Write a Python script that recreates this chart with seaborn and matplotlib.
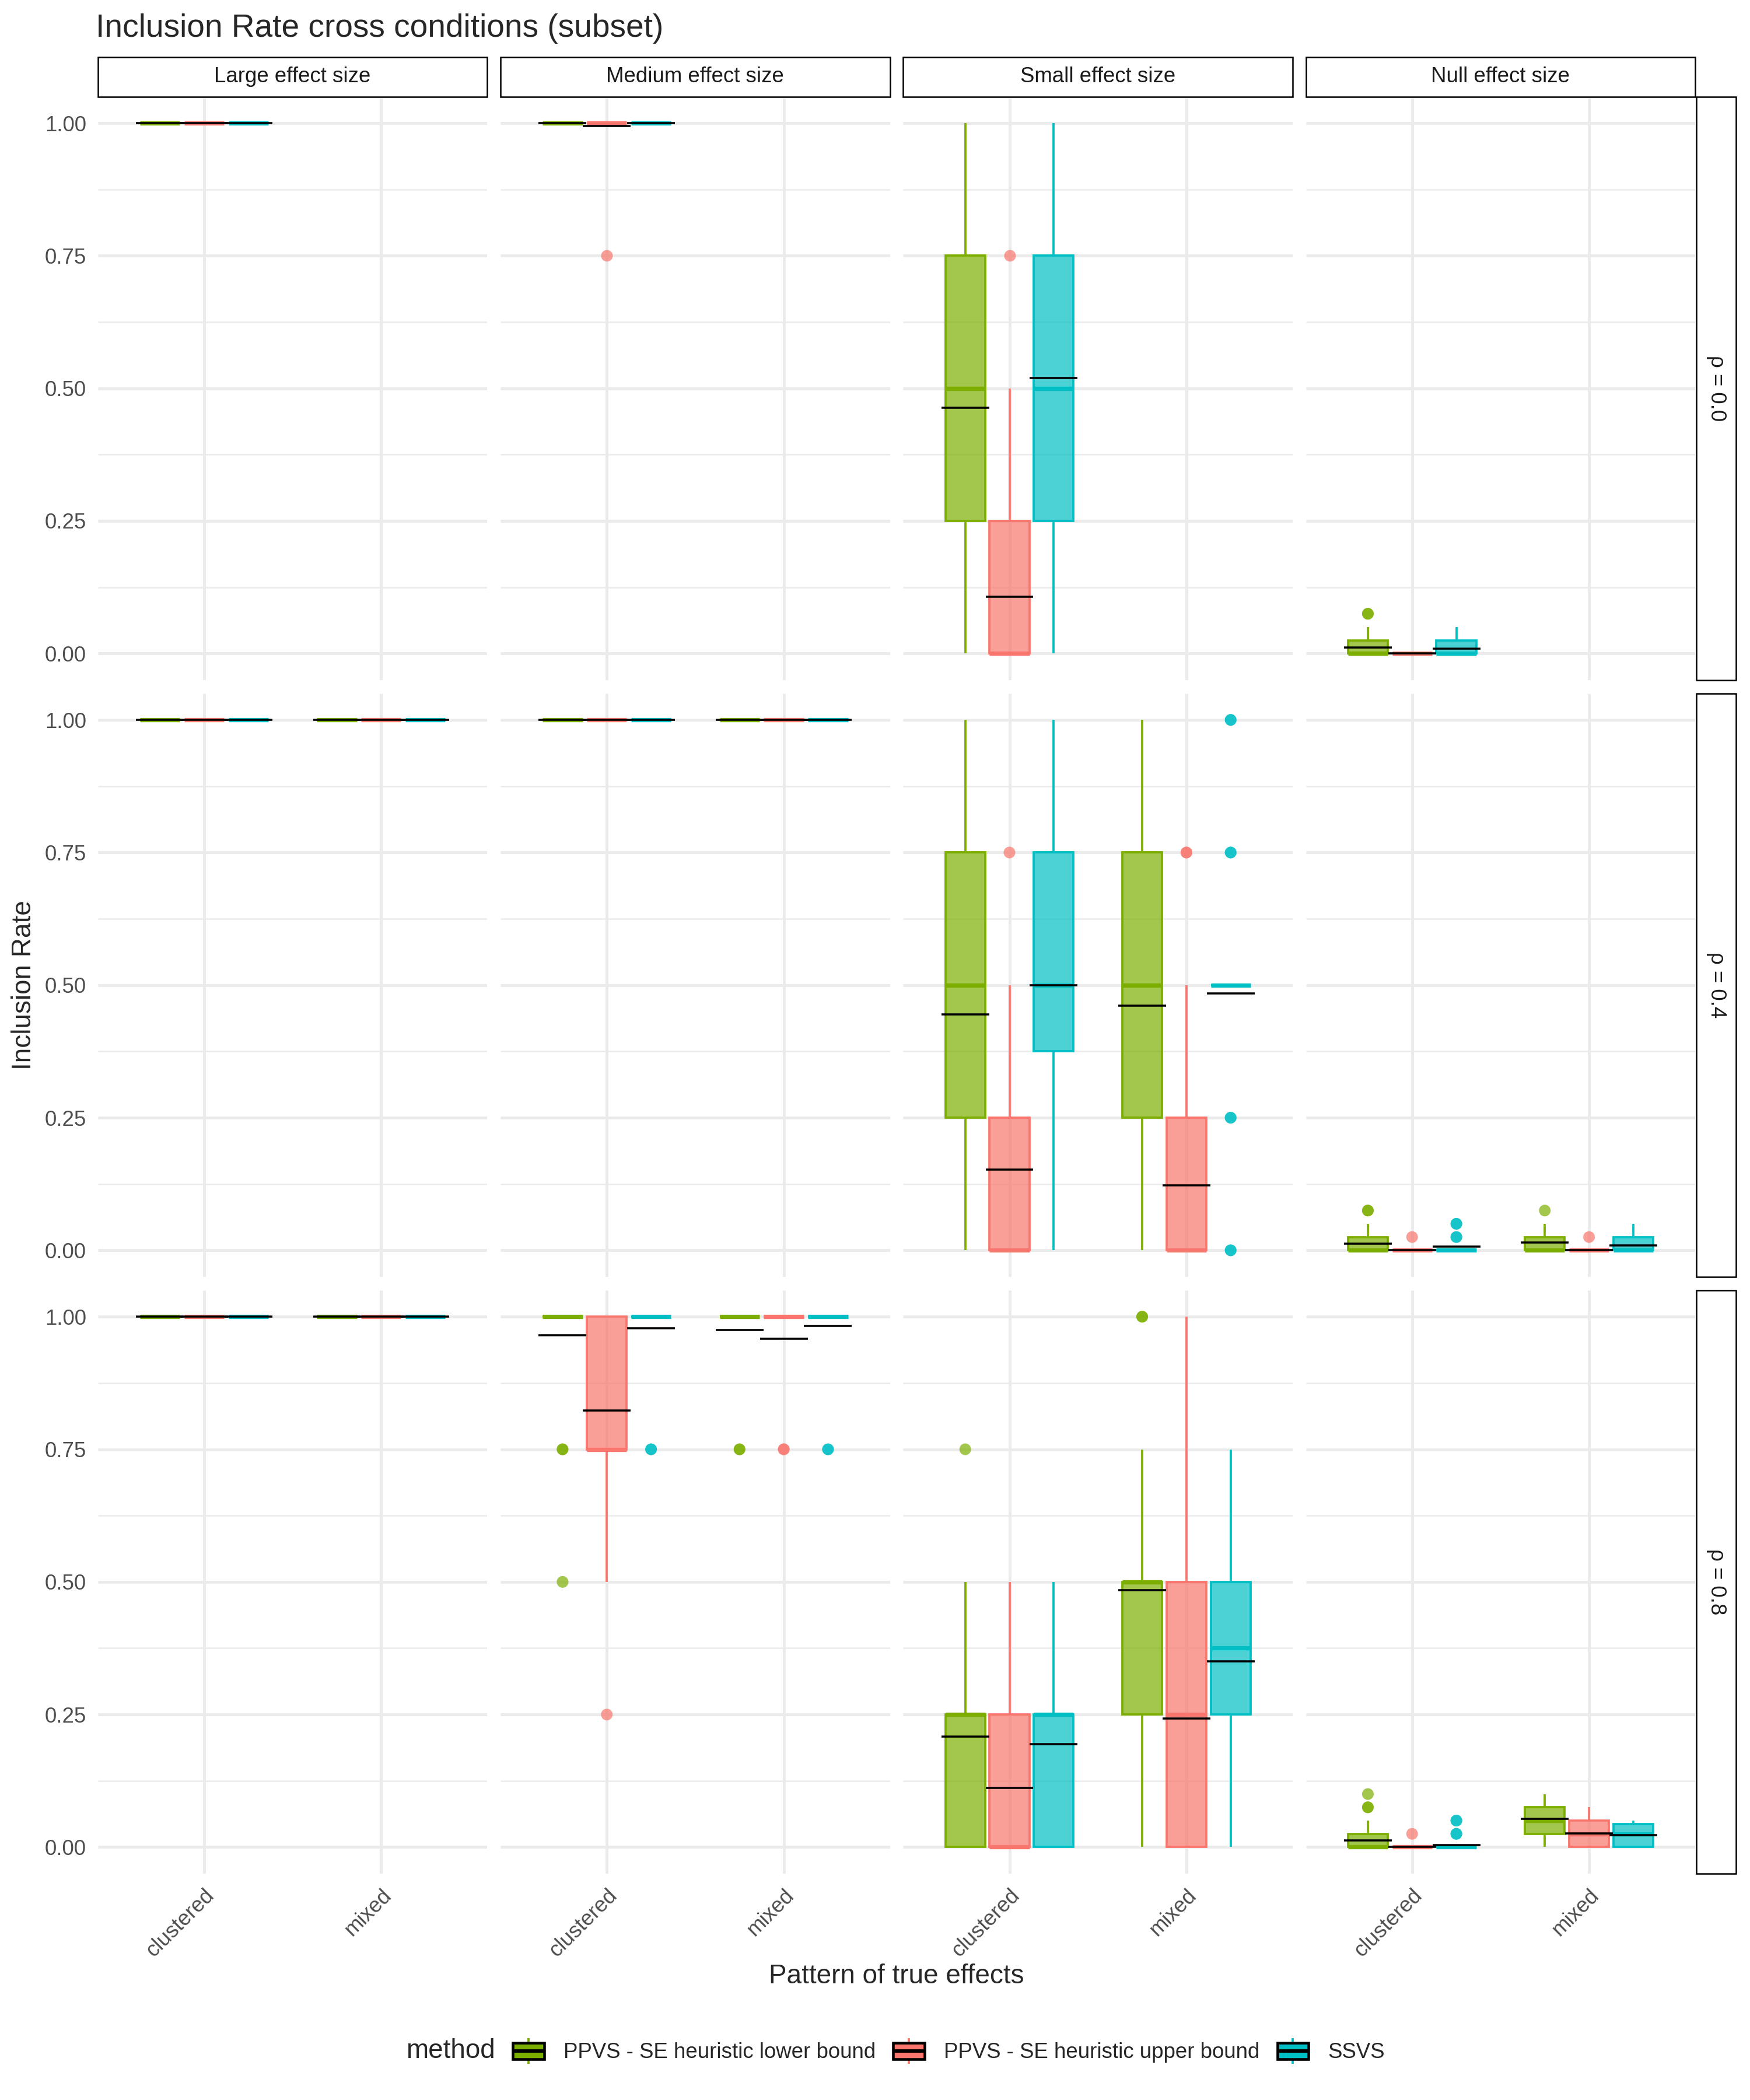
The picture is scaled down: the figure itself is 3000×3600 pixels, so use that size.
"""
Inclusion rate boxplots across effect size, pattern and correlation (subset).
Box statistics read off the summary figure; drawn with bxp + seaborn points.
"""

import numpy as np
import pandas as pd
import seaborn as sns
import matplotlib.pyplot as plt
from matplotlib.colors import to_rgba
from matplotlib.legend_handler import HandlerBase
from matplotlib.lines import Line2D
from matplotlib.patches import Patch, Rectangle
from matplotlib.ticker import FixedLocator

RHOS = ["ρ = 0.0", "ρ = 0.4", "ρ = 0.8"]
EFFECTS = ["Large", "Medium", "Small", "Null"]
PATTERNS = ["clustered", "mixed"]
METHODS = ["PPVS - SE heuristic lower bound", "PPVS - SE heuristic upper bound", "SSVS"]
COLORS = ["#7CAE00", "#F8766D", "#00BFC4"]

nan = np.nan
NA = [nan, nan, nan]
ONES = [1, 1, 1]
# rows per rho: Large-c, Large-m, Medium-c, Medium-m, Small-c, Small-m, Null-c, Null-m
# cols: lower bound, upper bound, SSVS   (nan = condition not run)
WHISLO = [
    [ONES, NA, ONES, NA, [0, 0, 0], NA, [0, 0, 0], NA],
    [ONES, ONES, ONES, ONES, [0, 0, 0], [0, 0, 0.5], [0, 0, 0], [0, 0, 0]],
    [ONES, ONES, [1, 0.5, 1], ONES, [0, 0, 0], [0, 0, 0], [0, 0, 0], [0, 0, 0]],
]
Q1 = [
    [ONES, NA, ONES, NA, [0.25, 0, 0.25], NA, [0, 0, 0], NA],
    [ONES, ONES, ONES, ONES, [0.25, 0, 0.375], [0.25, 0, 0.5], [0, 0, 0], [0, 0, 0]],
    [ONES, ONES, [1, 0.75, 1], ONES, [0, 0, 0], [0.25, 0, 0.25], [0, 0, 0], [0.025, 0, 0]],
]
MEDIAN = [
    [ONES, NA, ONES, NA, [0.5, 0, 0.5], NA, [0, 0, 0], NA],
    [ONES, ONES, ONES, ONES, [0.5, 0, 0.5], [0.5, 0, 0.5], [0, 0, 0], [0, 0, 0]],
    [ONES, ONES, [1, 0.75, 1], ONES, [0.25, 0, 0.25], [0.5, 0.25, 0.375], [0, 0, 0], [0.05, 0.025, 0.025]],
]
Q3 = [
    [ONES, NA, ONES, NA, [0.75, 0.25, 0.75], NA, [0.025, 0, 0.025], NA],
    [ONES, ONES, ONES, ONES, [0.75, 0.25, 0.75], [0.75, 0.25, 0.5], [0.025, 0, 0], [0.025, 0, 0.025]],
    [ONES, ONES, ONES, ONES, [0.25, 0.25, 0.25], [0.5, 0.5, 0.5], [0.025, 0, 0], [0.075, 0.05, 0.04375]],
]
WHISHI = [
    [ONES, NA, ONES, NA, [1, 0.5, 1], NA, [0.05, 0, 0.05], NA],
    [ONES, ONES, ONES, ONES, [1, 0.5, 1], [1, 0.5, 0.5], [0.05, 0, 0], [0.05, 0, 0.05]],
    [ONES, ONES, ONES, ONES, [0.5, 0.5, 0.5], [0.75, 1, 0.75], [0.05, 0, 0], [0.1, 0.075, 0.05]],
]
MEAN = [
    [ONES, NA, [1, 0.995, 1], NA, [0.463, 0.107, 0.519], NA, [0.011, 0, 0.009], NA],
    [ONES, ONES, ONES, ONES, [0.445, 0.152, 0.500], [0.461, 0.122, 0.484],
     [0.012, 0.0005, 0.0066], [0.0147, 0.0005, 0.0095]],
    [ONES, ONES, [0.965, 0.823, 0.978], [0.975, 0.9585, 0.983], [0.208, 0.112, 0.194],
     [0.484, 0.243, 0.350], [0.0128, 0.0005, 0.0037], [0.053, 0.0257, 0.0227]],
]
# outliers: (rho, effect, pattern, method index, value, number of runs at that value)
OUTLIERS = [
    (0, "Medium", "clustered", 1, 0.75, 1),
    (0, "Small", "clustered", 1, 0.75, 1),
    (0, "Null", "clustered", 0, 0.075, 2),
    (1, "Small", "clustered", 1, 0.75, 1),
    (1, "Small", "mixed", 1, 0.75, 2),
    (1, "Small", "mixed", 2, 1.0, 2),
    (1, "Small", "mixed", 2, 0.75, 2),
    (1, "Small", "mixed", 2, 0.25, 2),
    (1, "Small", "mixed", 2, 0.0, 2),
    (1, "Null", "clustered", 0, 0.075, 2),
    (1, "Null", "clustered", 1, 0.025, 1),
    (1, "Null", "clustered", 2, 0.05, 2),
    (1, "Null", "clustered", 2, 0.025, 2),
    (1, "Null", "mixed", 0, 0.075, 1),
    (1, "Null", "mixed", 1, 0.025, 1),
    (2, "Medium", "clustered", 0, 0.75, 2),
    (2, "Medium", "clustered", 0, 0.5, 1),
    (2, "Medium", "clustered", 1, 0.25, 1),
    (2, "Medium", "clustered", 2, 0.75, 2),
    (2, "Medium", "mixed", 0, 0.75, 2),
    (2, "Medium", "mixed", 1, 0.75, 2),
    (2, "Medium", "mixed", 2, 0.75, 2),
    (2, "Small", "clustered", 0, 0.75, 1),
    (2, "Small", "mixed", 0, 1.0, 2),
    (2, "Null", "clustered", 0, 0.075, 2),
    (2, "Null", "clustered", 0, 0.1, 1),
    (2, "Null", "clustered", 1, 0.025, 1),
    (2, "Null", "clustered", 2, 0.05, 2),
    (2, "Null", "clustered", 2, 0.025, 2),
]

Y_TICKS = [0, 0.25, 0.5, 0.75, 1.0]
Y_TICK_LABELS = ["0.00", "0.25", "0.50", "0.75", "1.00"]

DODGE = 0.25
BOX_W = 0.225
MEAN_W = 0.27
GRID = "#EBEBEB"


class BoxKey(HandlerBase):
    """ggplot-like boxplot legend key with a black mean crossbar over it."""

    def create_artists(self, legend, orig_handle, xdescent, ydescent, width, height, fontsize, trans):
        color = orig_handle.get_facecolor()
        x0, y0 = -xdescent, -ydescent
        whisker = Line2D([x0 + width / 2] * 2, [y0 + 0.1 * height, y0 + 0.9 * height],
                         color=color, lw=0.9, transform=trans)
        box = Rectangle((x0 + 0.125 * width, y0 + 0.25 * height), 0.75 * width, 0.5 * height,
                        facecolor=color, edgecolor="black", lw=1.1, transform=trans)
        mid = Line2D([x0 + 0.125 * width, x0 + 0.875 * width], [y0 + height / 2] * 2,
                     color="black", lw=1.4, transform=trans)
        return [whisker, box, mid]


def draw_panel(ax, r, e):
    stats, pos, cols, means = [], [], [], []
    for p, pattern in enumerate(PATTERNS):
        row = 2 * e + p
        for m in range(len(METHODS)):
            if np.isnan(MEDIAN[r][row][m]):
                continue
            stats.append(dict(whislo=WHISLO[r][row][m], q1=Q1[r][row][m], med=MEDIAN[r][row][m],
                              q3=Q3[r][row][m], whishi=WHISHI[r][row][m], fliers=[]))
            pos.append(p + 1 + (m - 1) * DODGE)
            cols.append(COLORS[m])
            means.append(MEAN[r][row][m])
    if not stats:
        return

    bp = ax.bxp(stats, positions=pos, widths=BOX_W, patch_artist=True, showcaps=False,
                showfliers=False, manage_ticks=False)
    for i, c in enumerate(cols):
        bp["boxes"][i].set(facecolor=to_rgba(c, 0.7), edgecolor=c, linewidth=0.9, zorder=2)
        bp["medians"][i].set(color=c, linewidth=1.75, solid_capstyle="butt", zorder=2.5)
        for w in bp["whiskers"][2 * i:2 * i + 2]:
            w.set(color=c, linewidth=0.9, solid_capstyle="butt", zorder=1.5)

    pos = np.array(pos)
    ax.hlines(means, pos - MEAN_W / 2, pos + MEAN_W / 2, colors="black",
              linewidth=0.85, zorder=5, capstyle="butt")


sns.set_theme(style="white")
plt.rcParams["font.family"] = ["Liberation Sans", "DejaVu Sans"]
plt.rcParams["lines.solid_capstyle"] = "butt"

# outlier table, one row per run
out = pd.DataFrame(OUTLIERS, columns=["rho", "effect", "pattern", "m", "value", "n"])
out = out.loc[out.index.repeat(out["n"])].reset_index(drop=True)
out["method"] = [METHODS[i] for i in out["m"]]
out["x"] = [PATTERNS.index(p) + 1 + (i - 1) * DODGE for p, i in zip(out["pattern"], out["m"])]

fig, axes = plt.subplots(3, 4, figsize=(10, 12))
fig.subplots_adjust(left=0.056, right=0.9687, top=0.9540, bottom=0.1078,
                    wspace=0.0343, hspace=0.0229)

for r, rho in enumerate(RHOS):
    for e, effect in enumerate(EFFECTS):
        ax = axes[r, e]
        ax.set_axisbelow(True)
        draw_panel(ax, r, e)

        sub = out[(out["rho"] == r) & (out["effect"] == effect)]
        if not sub.empty:
            sns.scatterplot(data=sub, x="x", y="value", hue="method", hue_order=METHODS,
                            palette=COLORS, alpha=0.7, s=23, linewidth=0, legend=False,
                            ax=ax, zorder=3)

        ax.set_xlim(0.4, 2.6)
        ax.set_ylim(-0.05, 1.05)
        ax.set_xticks([1, 2])
        ax.set_xticklabels(PATTERNS)
        ax.set_yticks(Y_TICKS)
        ax.set_yticklabels(Y_TICK_LABELS)
        ax.yaxis.set_minor_locator(FixedLocator([0.125, 0.375, 0.625, 0.875]))
        ax.grid(which="major", color=GRID, linewidth=1.2)
        ax.grid(which="minor", axis="y", color=GRID, linewidth=0.6)
        ax.set_xlabel("")
        ax.set_ylabel("")
        for s in ax.spines.values():
            s.set_visible(False)
        ax.tick_params(which="both", length=0, labelsize=8.8, labelcolor="#4D4D4D", pad=4.8)
        ax.tick_params(labelleft=(e == 0), labelbottom=(r == 2))
        if r == 2:
            for lab in ax.get_xticklabels():
                lab.set(rotation=45, ha="right", va="top", rotation_mode="anchor")

        if r == 0:
            ax.add_patch(Rectangle((0, 1), 1, 0.0678, transform=ax.transAxes, clip_on=False,
                                   facecolor="white", edgecolor="black", linewidth=0.6))
            ax.text(0.5, 1.0339, f"{effect} effect size", transform=ax.transAxes,
                    ha="center", va="center", fontsize=8.8, color="#1A1A1A")
        if e == 3:
            ax.add_patch(Rectangle((1.003, 0), 0.102, 1, transform=ax.transAxes, clip_on=False,
                                   facecolor="white", edgecolor="black", linewidth=0.6))
            ax.text(1.054, 0.5, rho, transform=ax.transAxes, rotation=-90,
                    ha="center", va="center", fontsize=8.8, color="#1A1A1A")

fig.text(164 / 3000, 1 - 62.7 / 3600, "Inclusion Rate cross conditions (subset)",
         fontsize=13.2, ha="left", va="baseline")
fig.text(41 / 3000, 1 - 1689 / 3600, "Inclusion Rate", rotation=90, fontsize=11,
         ha="center", va="center")
fig.text(1537 / 3000, 1 - 3388 / 3600, "Pattern of true effects", fontsize=11,
         ha="center", va="center")

handles = [Patch(facecolor=c) for c in COLORS]
fig.legend(handles, METHODS, loc="center left", bbox_to_anchor=(870 / 3000, 1 - 3516 / 3600),
           ncol=3, frameon=False, fontsize=8.8, handlelength=1.96, handleheight=1.96,
           handletextpad=0.66, columnspacing=0.57, borderpad=0, borderaxespad=0,
           handler_map={Patch: BoxKey()})
fig.text(849 / 3000, 1 - 3516 / 3600, "method", fontsize=11, ha="right", va="center")

fig.savefig("out.png", dpi=300)
